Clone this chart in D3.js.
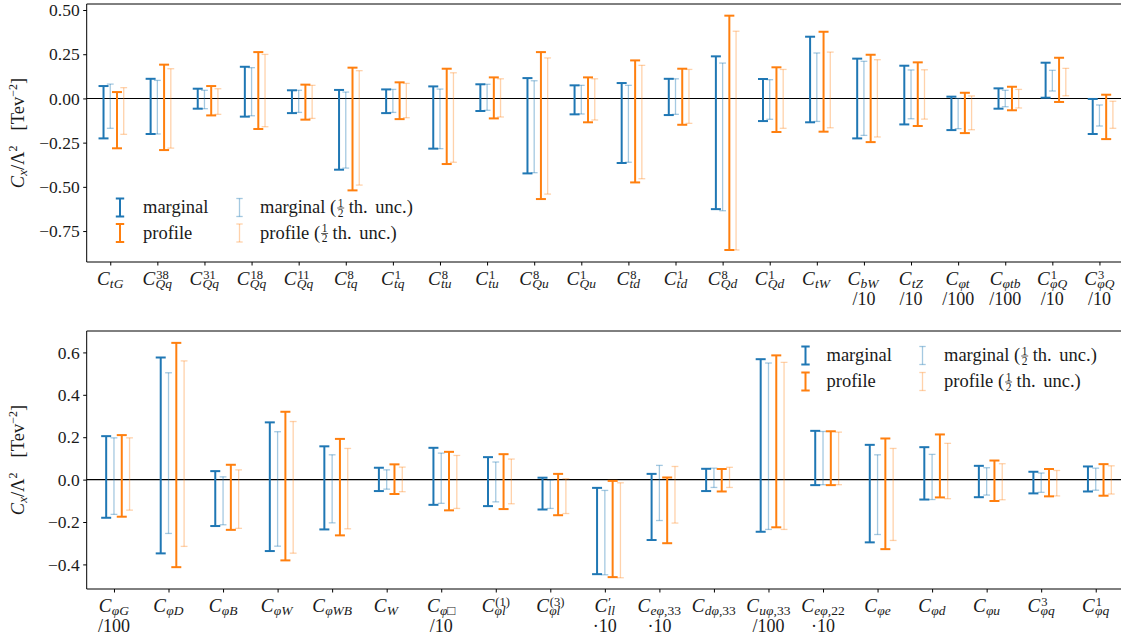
<!DOCTYPE html>
<html>
<head>
<meta charset="utf-8">
<script src="https://cdn.jsdelivr.net/npm/d3@7"></script>
<style>
  body { margin: 0; background: #fff; }
  text { font-family: "Liberation Serif", "DejaVu Serif", serif; fill: #1a1a1a; }
</style>
</head>
<body>
<svg width="1121" height="639"></svg>
<script>
// ---- top panel: labels ----
const topSub = ["tG","Qq","Qq","Qq","Qq","tq","tq","tu","tu","Qu","Qu","td","td","Qd","Qd","tW","bW","tZ","φt","φtb","φQ","φQ"]
const topSup = ["","38","31","18","11","8","1","8","1","8","1","8","1","8","1","","","","","","1","3"]
const topLine2 = ["","","","","","","","","","","","","","","","","/10","/10","/100","/100","/10","/10"]

// [low, high] for each coefficient
const topMarginal = [[-0.226,0.070],[-0.201,0.111],[-0.058,0.055],[-0.103,0.179],[-0.083,0.046],[-0.403,0.048],[-0.083,0.051],[-0.284,0.068],[-0.071,0.080],[-0.424,0.115],[-0.090,0.074],[-0.365,0.087],[-0.094,0.111],[-0.626,0.238],[-0.128,0.110],[-0.135,0.349],[-0.226,0.225],[-0.147,0.185],[-0.179,0.010],[-0.058,0.057],[0.004,0.202],[-0.201,-0.003]]
const topMarginalHalf = [[-0.169,0.081],[-0.201,0.102],[-0.058,0.046],[-0.098,0.174],[-0.079,0.046],[-0.394,0.036],[-0.079,0.051],[-0.284,0.053],[-0.067,0.080],[-0.420,0.100],[-0.088,0.074],[-0.361,0.074],[-0.090,0.111],[-0.635,0.200],[-0.118,0.106],[-0.130,0.257],[-0.209,0.210],[-0.115,0.161],[-0.171,0.000],[-0.047,0.046],[0.042,0.159],[-0.156,-0.037]]
const topProfile = [[-0.282,0.036],[-0.292,0.191],[-0.096,0.070],[-0.173,0.262],[-0.120,0.078],[-0.520,0.174],[-0.117,0.091],[-0.371,0.168],[-0.113,0.119],[-0.569,0.262],[-0.135,0.119],[-0.475,0.215],[-0.149,0.168],[-0.857,0.468],[-0.190,0.176],[-0.188,0.377],[-0.247,0.247],[-0.156,0.204],[-0.196,0.032],[-0.067,0.066],[-0.020,0.230],[-0.230,0.021]]
const topProfileHalf = [[-0.203,0.061],[-0.281,0.168],[-0.090,0.055],[-0.160,0.249],[-0.113,0.074],[-0.490,0.157],[-0.109,0.085],[-0.361,0.145],[-0.105,0.111],[-0.541,0.229],[-0.122,0.111],[-0.454,0.187],[-0.141,0.164],[-0.857,0.380],[-0.169,0.164],[-0.166,0.262],[-0.218,0.219],[-0.117,0.162],[-0.177,0.014],[-0.054,0.051],[0.015,0.170],[-0.169,-0.016]]
const topTicks = [-0.75, -0.5, -0.25, 0, 0.25, 0.5]

// ---- bottom panel ----
const botSub = ["φG","φD","φB","φW","φWB","W","φ□","φl","φl","ll","eφ,33","dφ,33","uφ,33","eφ,22","φe","φd","φu","φq","φq"]
const botSup = ["","","","","","","","(1)","(3)","′","","","","","","","","3","1"]
const botLine2 = ["/100","","","","","","/10","","","·10","·10","","/100","·10","","","","",""]

const botMarginal = [[-0.180,0.205],[-0.348,0.576],[-0.219,0.040],[-0.337,0.270],[-0.235,0.157],[-0.054,0.056],[-0.119,0.150],[-0.125,0.106],[-0.141,0.009],[-0.446,-0.039],[-0.285,0.027],[-0.054,0.051],[-0.246,0.568],[-0.026,0.230],[-0.296,0.164],[-0.094,0.153],[-0.083,0.065],[-0.065,0.037],[-0.056,0.062]]
const botMarginalHalf = [[-0.164,0.197],[-0.254,0.504],[-0.213,0.013],[-0.314,0.226],[-0.204,0.117],[-0.045,0.046],[-0.112,0.125],[-0.105,0.083],[-0.136,-0.002],[-0.449,-0.051],[-0.193,0.067],[-0.037,0.054],[-0.235,0.550],[-0.024,0.227],[-0.259,0.117],[-0.094,0.119],[-0.073,0.056],[-0.060,0.031],[-0.050,0.054]]
const botProfile = [[-0.175,0.210],[-0.413,0.645],[-0.237,0.070],[-0.381,0.320],[-0.263,0.192],[-0.068,0.072],[-0.145,0.131],[-0.139,0.120],[-0.168,0.027],[-0.460,-0.006],[-0.300,0.010],[-0.056,0.050],[-0.225,0.586],[-0.026,0.228],[-0.328,0.194],[-0.084,0.213],[-0.101,0.090],[-0.079,0.050],[-0.076,0.073]]
const botProfileHalf = [[-0.144,0.197],[-0.315,0.560],[-0.230,0.046],[-0.347,0.274],[-0.232,0.147],[-0.057,0.059],[-0.136,0.114],[-0.114,0.097],[-0.160,0.004],[-0.463,-0.015],[-0.205,0.062],[-0.037,0.058],[-0.235,0.553],[-0.024,0.224],[-0.287,0.147],[-0.090,0.171],[-0.095,0.075],[-0.077,0.043],[-0.068,0.065]]
const botTicks = [-0.4, -0.2, 0, 0.2, 0.4, 0.6]

const blue = "#1f77b4", orange = "#ff7f0e"
// how each of the four series is drawn
const styles = [
    {name: "marginal", off: -1/7, color: blue, op: 1, lw: 2, cap: 5, half: false},
    {name: "marginal", off: 0, color: blue, op: 0.4, lw: 1.3, cap: 3.4, half: true},
    {name: "profile", off: 1/7, color: orange, op: 1, lw: 2, cap: 5, half: false},
    {name: "profile", off: 2/7, color: orange, op: 0.35, lw: 1.3, cap: 3.4, half: true}
]

const svg = d3.select("svg")
const left = 86.7, right = 1123

function isUpright(ch) { return /[0-9,()′□]/.test(ch) }

function addChars(t, s) {
    for (const ch of s) {
        t.append("tspan").attr("font-style", isUpright(ch) ? "normal" : "italic").text(ch)
    }
}

function mathLabel(g, x, y0, sub, sup, line2) {
    const t = g.append("g")
    const c = t.append("text").attr("y", y0).attr("font-size", 19).attr("font-style", "italic").text("C")
    const cw = c.node().getComputedTextLength()
    const st = t.append("text").attr("x", cw + 0.3).attr("y", y0 + 3).attr("font-size", 13.5)
    addChars(st, sub)
    if (sup) {
        const pt = t.append("text").attr("x", cw + 1).attr("y", y0 - 6).attr("font-size", 12.5)
        addChars(pt, sup)
    }
    const bb = t.node().getBBox()
    t.attr("transform", "translate(" + (x - bb.x - bb.width / 2) + ",0)")
    if (line2) {
        g.append("text").attr("x", x).attr("y", y0 + 20.5).attr("text-anchor", "middle")
            .attr("font-size", 18).text(line2)
    }
}

function errbar(g, x, y1, y2, st) {
    const e = g.append("g").attr("stroke", st.color).attr("stroke-opacity", st.op).attr("stroke-width", st.lw)
    e.append("line").attr("x1", x).attr("x2", x).attr("y1", y1).attr("y2", y2)
    e.append("line").attr("x1", x - st.cap).attr("x2", x + st.cap).attr("y1", y1).attr("y2", y1)
    e.append("line").attr("x1", x - st.cap).attr("x2", x + st.cap).attr("y1", y2).attr("y2", y2)
}

function legendText(g, x, y, st) {
    const t = g.append("text").attr("x", x).attr("y", y).attr("font-size", 18.5)
    if (!st.half) { t.text(st.name); return }
    t.text(st.name + " (")
    const w = t.node().getComputedTextLength()
    const fx = x + w + 4.5
    g.append("text").attr("x", fx).attr("y", y - 6.5).attr("font-size", 11.5).attr("text-anchor", "middle").text("1")
    g.append("line").attr("x1", fx - 3.5).attr("x2", fx + 3.5).attr("y1", y - 5).attr("y2", y - 5)
        .attr("stroke", "#1a1a1a").attr("stroke-width", 0.7)
    g.append("text").attr("x", fx).attr("y", y + 3.5).attr("font-size", 11.5).attr("text-anchor", "middle").text("2")
    g.append("text").attr("x", fx + 8).attr("y", y).attr("font-size", 18.5)
        .attr("word-spacing", 3).text(" th. unc.)")
}

function drawPanel(p) {
    const n = p.sub.length
    const x = d3.scaleLinear().domain([-0.5, n - 0.5]).range([left, right])
    const y = d3.scaleLinear().domain(p.ydom).range([p.bottom, p.top])
    const g = svg.append("g")

    // zero line
    g.append("line").attr("x1", left).attr("x2", right).attr("y1", y(0)).attr("y2", y(0))
        .attr("stroke", "#000").attr("stroke-width", 1.1)

    const series = p.series
    styles.forEach(function(st, k) {
        const gs = g.append("g")
        series[k].forEach(function(d, i) {
            errbar(gs, x(i + st.off), y(d[1]), y(d[0]), st)
        })
    })

    // frame (right edge falls outside the picture)
    g.append("path").attr("d", "M" + right + "," + p.top + "H" + left + "V" + p.bottom + "H" + right)
        .attr("fill", "none").attr("stroke", "#000").attr("stroke-width", 1)

    const ya = g.append("g").attr("transform", "translate(" + left + ",0)")
        .call(d3.axisLeft(y).tickValues(p.ticks).tickFormat(d3.format(p.fmt)).tickSize(3.5).tickPadding(3.5))
    ya.select(".domain").remove()
    ya.selectAll("text").attr("font-size", 17.5).attr("font-family", null)

    const xa = g.append("g").attr("transform", "translate(0," + p.bottom + ")")
        .call(d3.axisBottom(x).tickValues(d3.range(n)).tickFormat("").tickSize(3.5))
    xa.select(".domain").remove()

    for (let i = 0; i < n; i++) {
        mathLabel(g, x(i), p.bottom + 22.5, p.sub[i], p.sup[i], p.line2[i])
    }

    // y label
    const cy = (p.top + p.bottom) / 2
    const yl = g.append("text").attr("transform", "translate(24," + cy + ") rotate(-90)")
        .attr("text-anchor", "middle").attr("font-size", 18.5)
    yl.append("tspan").attr("font-style", "italic").text("C")
    yl.append("tspan").attr("font-style", "italic").attr("font-size", 13).attr("dy", 3).text("x")
    yl.append("tspan").attr("dy", -3).text("/Λ")
    yl.append("tspan").attr("font-size", 12).attr("dy", -7).text("2")
    yl.append("tspan").attr("dy", 7).attr("dx", 15).text("[Tev")
    yl.append("tspan").attr("font-size", 12).attr("dy", -7).text("−2")
    yl.append("tspan").attr("dy", 7).text("]")

    // legend
    const L = p.legend
    const order = [[0, 0, 0], [2, 0, 1], [1, 1, 0], [3, 1, 1]]
    order.forEach(function(o) {
        const st = styles[o[0]]
        const ix = L.icon[o[1]], tx = L.text[o[1]], ry = L.rows[o[2]]
        errbar(g, ix, ry - 9, ry + 9, {color: st.color, op: st.op, lw: st.lw, cap: st.half ? 3.2 : 4.2})
        legendText(g, tx, ry + 5.5, st)
    })
}

drawPanel({
    top: 4, bottom: 262, ydom: [-0.925, 0.534], ticks: topTicks, fmt: ".2f",
    sub: topSub, sup: topSup, line2: topLine2,
    series: [topMarginal, topMarginalHalf, topProfile, topProfileHalf],
    legend: {icon: [120, 239.5], text: [143, 260], rows: [207.5, 233]}
})

drawPanel({
    top: 331, bottom: 589, ydom: [-0.516, 0.701], ticks: botTicks, fmt: ".1f",
    sub: botSub, sup: botSup, line2: botLine2,
    series: [botMarginal, botMarginalHalf, botProfile, botProfileHalf],
    legend: {icon: [805.5, 922.5], text: [826.5, 944], rows: [355.5, 381.5]}
})
</script>
</body>
</html>
